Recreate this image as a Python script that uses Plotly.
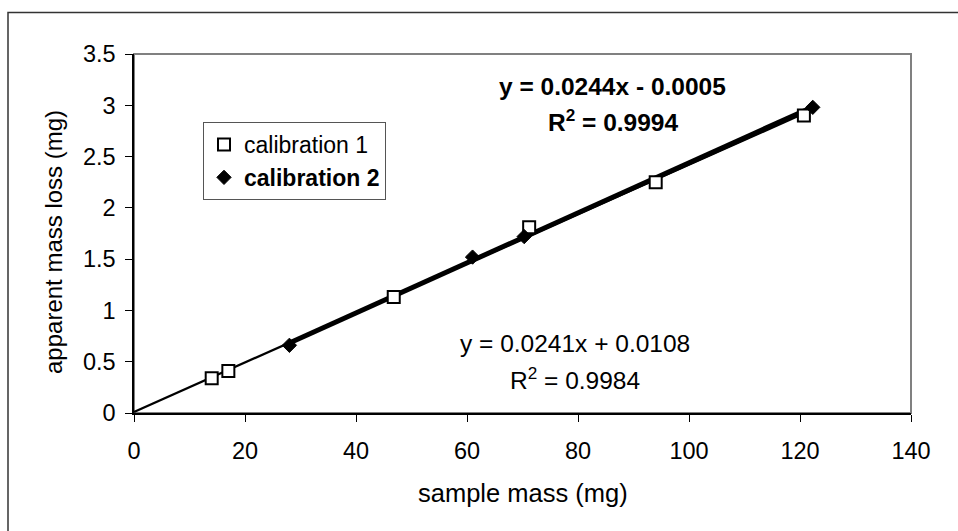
import numpy as np
import plotly.graph_objects as go

# ---- data ----
cal1_x = [14.0, 17.0, 46.8, 71.2, 94.0, 120.7]
cal1_y = [0.34, 0.41, 1.13, 1.81, 2.25, 2.90]
cal2_x = [28.0, 61.0, 70.3, 122.3]
cal2_y = [0.66, 1.52, 1.72, 2.98]

slope1, intercept1 = 0.0241, 0.0108
slope2, intercept2 = 0.0244, -0.0005

eq1_text = ["y = 0.0241x + 0.0108", "R<sup>2</sup> = 0.9984"]
eq2_text = ["<b>y = 0.0244x - 0.0005</b>", "<b>R<sup>2</sup> = 0.9994</b>"]

x_ticks = [0, 20, 40, 60, 80, 100, 120, 140]
y_ticks = [0, 0.5, 1, 1.5, 2, 2.5, 3, 3.5]

FONT = "Liberation Sans, Arial, sans-serif"

# trendline end points from the equations
t1_x = np.array([0.0, max(cal1_x)])
t1_y = slope1 * t1_x + intercept1
t2_x = np.array([min(cal2_x), max(cal2_x)])
t2_y = slope2 * t2_x + intercept2

fig = go.Figure()
fig.add_trace(go.Scatter(x=t1_x, y=t1_y, mode="lines", line=dict(color="black", width=2.2),
                         showlegend=False, hoverinfo="skip"))
fig.add_trace(go.Scatter(x=t2_x, y=t2_y, mode="lines", line=dict(color="black", width=5),
                         showlegend=False, hoverinfo="skip"))
fig.add_trace(go.Scatter(x=cal1_x, y=cal1_y, mode="markers", name="calibration 1",
                         marker=dict(symbol="square", size=12, color="white",
                                     line=dict(color="black", width=2))))
fig.add_trace(go.Scatter(x=cal2_x, y=cal2_y, mode="markers", name="<b>calibration 2</b>",
                         marker=dict(symbol="diamond", size=11, color="black",
                                     line=dict(color="black", width=1))))

L, R, T, B = 134, 47, 54, 118
W, H = 958, 531
pw, ph = W - L - R, H - T - B

def px(xp):
    return (xp - L) / pw

def py(yp):
    return (H - B - yp) / ph

EQ = 24.5
ann = []
ann.append(dict(x=86.3, y=3.187, xref="x", yref="y", text=eq2_text[0], showarrow=False,
                font=dict(size=EQ, color="black", family=FONT)))
ann.append(dict(x=86.3, y=2.856, xref="x", yref="y", text=eq2_text[1], showarrow=False,
                font=dict(size=EQ, color="black", family=FONT)))
ann.append(dict(x=79.5, y=0.682, xref="x", yref="y", text=eq1_text[0], showarrow=False,
                font=dict(size=EQ, color="black", family=FONT)))
ann.append(dict(x=79.5, y=0.341, xref="x", yref="y", text=eq1_text[1], showarrow=False,
                font=dict(size=EQ, color="black", family=FONT)))
ann.append(dict(x=0.5, y=py(493), xref="paper", yref="paper", text="sample mass (mg)",
                showarrow=False, xanchor="center", yanchor="middle",
                font=dict(size=25.5, color="black", family=FONT)))
ann.append(dict(x=px(53), y=py(242), xref="paper", yref="paper", text="apparent mass loss (mg)",
                showarrow=False, xanchor="center", yanchor="middle", textangle=-90,
                font=dict(size=24, color="black", family=FONT)))

shapes = [
    dict(type="rect", xref="paper", yref="paper", x0=0, x1=1, y0=0, y1=1,
         line=dict(color="#808080", width=2), layer="below"),
    dict(type="rect", xref="paper", yref="paper", x0=px(8), x1=px(1000), y0=py(560), y1=py(12.5),
         line=dict(color="#333333", width=1.5), layer="below"),
]

TICK = 23.5
fig.update_layout(
    width=W, height=H,
    margin=dict(l=L, r=R, t=T, b=B),
    paper_bgcolor="white", plot_bgcolor="white",
    font=dict(family=FONT, size=TICK, color="black"),
    annotations=ann, shapes=shapes,
    legend=dict(x=px(203), y=py(122), xanchor="left", yanchor="top",
                bordercolor="#555555", borderwidth=1, bgcolor="white",
                font=dict(size=23, color="black", family=FONT)),
    xaxis=dict(range=[0, 140], tickvals=x_ticks, ticktext=[str(v) for v in x_ticks],
               showgrid=False, zeroline=False, showline=True, linecolor="black", linewidth=1.5,
               ticks="outside", ticklen=7, tickcolor="black", tickwidth=1,
               ticklabelstandoff=9, tickfont=dict(size=TICK)),
    yaxis=dict(range=[0, 3.5], tickvals=y_ticks, ticktext=[f"{v:g}" for v in y_ticks],
               showgrid=False, zeroline=False, showline=True, linecolor="black", linewidth=1.5,
               ticks="outside", ticklen=7, tickcolor="black", tickwidth=1,
               ticklabelstandoff=5, tickfont=dict(size=TICK)),
)

fig.write_html("out.html")
